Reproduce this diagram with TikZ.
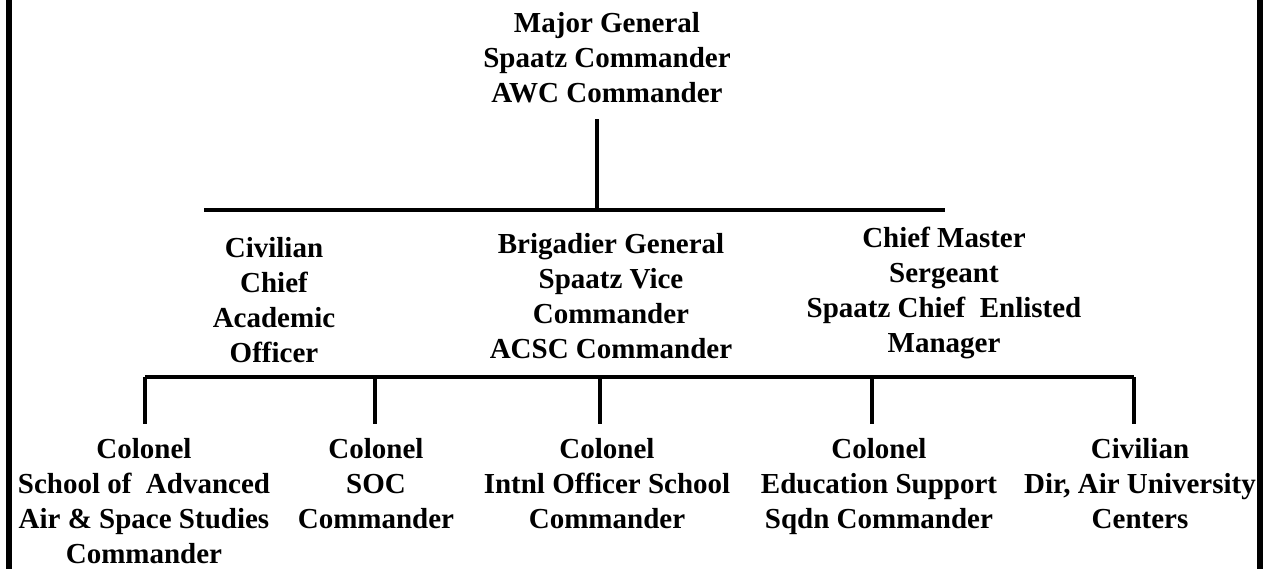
\documentclass[tikz,border=0pt]{standalone}
\usepackage{fontspec}
\setmainfont{Liberation Serif}
\usepackage{xcolor}
\usepackage{tikz}
\definecolor{ink}{HTML}{000000}
\tikzset{
  person/.style={align=center, inner sep=0pt, anchor=north, color=ink,
    font=\bfseries\fontsize{14.5}{17.5}\selectfont},
  link/.style={line width=2pt, color=ink},
  frame/.style={line width=3pt, color=ink}
}

\begin{document}
\begin{tikzpicture}[x=0.5pt,y=-0.5pt]
  \useasboundingbox (0,0) rectangle (1265,569);
  \draw[frame] (9,0) -- (9,569);
  \draw[frame] (1260,0) -- (1260,569);
  % top
  \node[person] (cmdr) at (607,12) {Major General\\Spaatz Commander\\AWC Commander};
  % second tier
  \node[person] (cao) at (274,237) {Civilian\\Chief\\Academic\\Officer};
  \node[person] (vice) at (611,233) {Brigadier General\\Spaatz Vice\\Commander\\ACSC Commander};
  \node[person] (cem) at (944,227) {Chief Master\\Sergeant\\Spaatz Chief\ \ Enlisted\\Manager};
  % bottom tier
  \node[person] (saass) at (144,438) {Colonel\\School of\ \ Advanced\\Air \& Space Studies\\Commander};
  \node[person] (soc) at (376,438) {Colonel\\SOC\\Commander};
  \node[person] (ios) at (607,438) {Colonel\\Intnl Officer School\\Commander};
  \node[person] (edsq) at (879,438) {Colonel\\Education Support\\Sqdn Commander};
  \node[person] (auc) at (1140,438) {Civilian\\Dir, Air University\\Centers};
  % buses
  \coordinate (busA) at (597,210);
  \coordinate (busAw) at (204,210);
  \coordinate (busAe) at (945,210);
  \coordinate (busBw) at (145,377);
  \coordinate (busBe) at (1134,377);
  \draw[link,shorten <=8pt] (cmdr.south -| busA) -- (busA);
  \draw[link] (busAw) -- (busAe);
  \draw[link] (busBw) -- (busBe);
  \foreach \n/\x in {saass/145, soc/375, ios/600, edsq/872, auc/1134} {
    \coordinate (\n top) at (\x,377);
    \draw[link,shorten >=7pt] (\n top) -- (\n top |- \n.north);
  }
\end{tikzpicture}
\end{document}
